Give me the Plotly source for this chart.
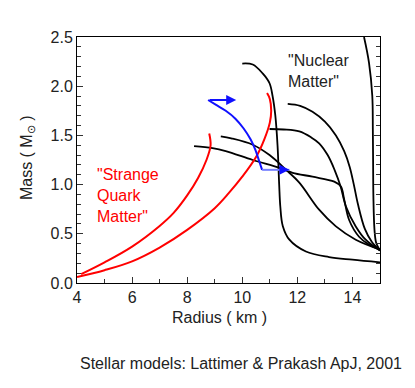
import plotly.graph_objects as go

# strange quark matter mass-radius curves (radius km, mass Msun)
sqm1_r = [4.15, 5.0, 6.0, 7.0, 7.5, 8.0, 8.4, 8.7, 8.85, 8.8]
sqm1_m = [0.09, 0.21, 0.37, 0.58, 0.71, 0.89, 1.07, 1.25, 1.4, 1.52]
sqm2_r = [4.0, 5.0, 6.0, 7.0, 8.0, 9.0, 9.5, 10.0, 10.5, 10.8, 11.0, 11.05, 11.0, 10.9]
sqm2_m = [0.06, 0.13, 0.22, 0.36, 0.54, 0.76, 0.91, 1.08, 1.28, 1.46, 1.63, 1.75, 1.87, 1.93]

# nuclear matter curves
nm_a_r = [10.0, 10.38, 10.74, 10.99, 11.1, 11.2, 11.28, 11.34, 11.38, 11.47, 11.71, 12.31, 13.15, 14.0, 15.0]
nm_a_m = [2.23, 2.22, 2.13, 2.03, 1.9, 1.7, 1.4, 1.0, 0.78, 0.58, 0.44, 0.32, 0.264, 0.237, 0.21]
nm_b_r = [14.42, 14.6, 14.72, 14.74, 14.75, 14.76, 14.8, 14.86, 15.0]
nm_b_m = [2.5, 2.24, 1.9, 1.56, 1.22, 0.88, 0.54, 0.41, 0.33]
nm_c_r = [11.65, 12.1, 12.55, 13.0, 13.4, 13.7, 13.9, 14.05, 14.2, 14.45, 14.7, 15.0]
nm_c_m = [1.82, 1.80, 1.74, 1.64, 1.5, 1.34, 1.18, 1.0, 0.8, 0.55, 0.42, 0.33]
nm_d_r = [10.99, 11.5, 12.07, 12.5, 12.79, 13.1, 13.35, 13.57, 13.76, 14.12, 14.48, 15.0]
nm_d_m = [1.565, 1.56, 1.54, 1.48, 1.42, 1.3, 1.15, 0.98, 0.78, 0.575, 0.44, 0.33]
nm_e_r = [9.22, 9.6, 10.38, 10.99, 11.59, 12.07, 12.79, 13.4, 14.12, 15.0]
nm_e_m = [1.49, 1.47, 1.405, 1.30, 1.15, 1.02, 0.745, 0.575, 0.44, 0.34]
nm_f_r = [8.25, 8.92, 9.4, 10.38, 11.35, 11.83, 12.55, 13.34, 13.58, 13.70, 13.88, 14.24, 14.6, 15.0]
nm_f_m = [1.39, 1.37, 1.34, 1.25, 1.17, 1.12, 1.08, 1.03, 0.98, 0.85, 0.64, 0.47, 0.39, 0.34]
nuclear = [(nm_a_r, nm_a_m), (nm_b_r, nm_b_m), (nm_c_r, nm_c_m),
           (nm_d_r, nm_d_m), (nm_e_r, nm_e_m), (nm_f_r, nm_f_m)]

# blue evolution track and its two arrows (tail, tip)
track_r = [8.76, 9.05, 9.4, 9.75, 10.05, 10.3, 10.48, 10.6, 10.72]
track_m = [1.86, 1.81, 1.75, 1.67, 1.57, 1.46, 1.35, 1.25, 1.15]
arrow_tail_r = [8.76, 10.72]
arrow_tip_r = [9.78, 11.71]
arrow_m = [1.86, 1.15]

BLACK = "#000000"
RED = "#ff0000"
BLUE = "#1010ff"
LIGHT_BLUE = "#7580ff"
FONT = "Liberation Sans, Arial, sans-serif"

fig = go.Figure()
for r, m in nuclear:
    fig.add_trace(go.Scatter(x=r, y=m, mode="lines", line=dict(color=BLACK, width=1.8, shape="spline"),
                             showlegend=False, hoverinfo="skip"))
for r, m in [(sqm1_r, sqm1_m), (sqm2_r, sqm2_m)]:
    fig.add_trace(go.Scatter(x=r, y=m, mode="lines", line=dict(color=RED, width=2, shape="spline"),
                             showlegend=False, hoverinfo="skip"))
fig.add_trace(go.Scatter(x=track_r, y=track_m, mode="lines", line=dict(color=BLUE, width=2, shape="spline"),
                         showlegend=False, hoverinfo="skip"))

# first arrow solid blue; second one has a pale shaft with a blue head
fig.add_annotation(x=arrow_tip_r[0], y=arrow_m[0], ax=arrow_tail_r[0], ay=arrow_m[0],
                   xref="x", yref="y", axref="x", ayref="y", text="", showarrow=True,
                   arrowhead=2, arrowsize=1, arrowwidth=2, arrowcolor=BLUE)
fig.add_trace(go.Scatter(x=[arrow_tail_r[1], arrow_tip_r[1]], y=[arrow_m[1], arrow_m[1]], mode="lines",
                         line=dict(color=LIGHT_BLUE, width=2), showlegend=False, hoverinfo="skip"))
fig.add_annotation(x=arrow_tip_r[1], y=arrow_m[1], ax=arrow_tip_r[1] - 0.35, ay=arrow_m[1],
                   xref="x", yref="y", axref="x", ayref="y", text="", showarrow=True,
                   arrowhead=2, arrowsize=1, arrowwidth=2, arrowcolor=BLUE)

fig.add_annotation(x=4.64, y=0.89, xref="x", yref="y", xanchor="left", yanchor="middle", align="left",
                   text='"Strange<br>Quark<br>Matter"', showarrow=False, font=dict(color=RED, size=16))
fig.add_annotation(x=11.59, y=2.15, xref="x", yref="y", xanchor="left", yanchor="middle", align="left",
                   text='"Nuclear<br>Matter"', showarrow=False, font=dict(color="#222", size=16))

fig.add_annotation(x=0.471, y=-0.141, xref="paper", yref="paper", text="Radius ( km )",
                   showarrow=False, yanchor="middle")
fig.add_annotation(x=-0.164, y=0.509, xref="paper", yref="paper", text="Mass ( M<sub>⊙</sub> )",
                   textangle=-90, showarrow=False, xanchor="center", yanchor="middle")
fig.add_annotation(x=0.540, y=-0.328, xref="paper", yref="paper",
                   text="Stellar models: Lattimer &amp; Prakash ApJ, 2001", showarrow=False, yanchor="middle")

fig.update_xaxes(range=[4, 15], tick0=4, dtick=2, ticks="inside", ticklen=6, tickcolor="#333",
                 showline=True, linecolor=BLACK, linewidth=1, mirror=True, showgrid=False, zeroline=False,
                 minor=dict(dtick=1, ticks="inside", ticklen=4, tickcolor="#333", showgrid=False))
fig.update_yaxes(range=[0, 2.5], tick0=0, dtick=0.5, tickformat=".1f", ticks="inside", ticklen=6,
                 tickcolor="#333", showline=True, linecolor=BLACK, linewidth=1, mirror="ticks",
                 showgrid=False, zeroline=False,
                 minor=dict(dtick=0.1, ticks="inside", ticklen=4, tickcolor="#333", showgrid=False))

# page body adds an 8px offset, so margins are trimmed to keep the plot box in place
fig.update_layout(width=415, height=388, margin=dict(l=69, r=43, t=29, b=113, autoexpand=False),
                  plot_bgcolor="white", paper_bgcolor="white",
                  font=dict(family=FONT, size=16, color="#222"))

fig.write_html("out.html")
